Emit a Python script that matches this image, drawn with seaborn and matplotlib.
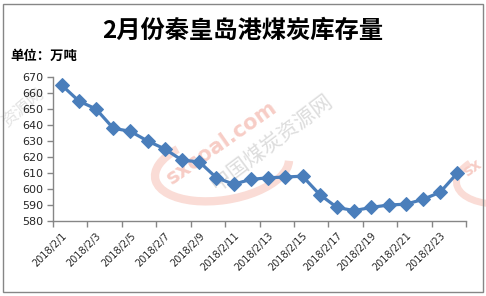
import matplotlib
matplotlib.use("Agg")
import matplotlib.pyplot as plt
from matplotlib.patches import Rectangle, Arc
from matplotlib.ticker import MultipleLocator, FixedLocator
import seaborn as sns
import pandas as pd

dates = [f"2018/2/{d}" for d in range(1, 25)]
stock = [665, 655, 650, 638, 636, 630, 625, 618, 617, 607, 603, 606,
         607, 607.5, 608, 596.5, 588.5, 586.5, 588.5, 590, 590.5, 593.5, 598, 610]
title = "2月份秦皇岛港煤炭库存量"
unit = "单位：万吨"

sns.set_theme(style="white")
plt.rcParams['font.family'] = ['Noto Sans CJK SC', 'DejaVu Sans']

df = pd.DataFrame({"date": dates, "stock": stock})
W, H = 486, 296
fig = plt.figure(figsize=(W / 100, H / 100), dpi=100)
ax = fig.add_axes([53 / W, 1 - 221 / H, (466 - 53) / W, (221 - 77) / H])
ax.set_zorder(3)

# faint watermark
wm_red = '#f7cdc6'
fig.patches.append(Arc((222 / W, 1 - 168 / H), 140 / W, 62 / H, angle=25,
                       theta1=120, theta2=345, transform=fig.transFigure,
                       color='#fadcd6', lw=6, zorder=0))
fig.text(222 / W, 1 - 143 / H, "sxcoal.com", color=wm_red, fontsize=15,
         fontweight='bold', rotation=35, ha='center', va='center', zorder=0,
         family='DejaVu Sans')
fig.text(272 / W, 1 - 143 / H, "中国煤炭资源网", color='#dddddd', fontsize=15,
         rotation=37, ha='center', va='center', zorder=0)
fig.text(24 / W, 1 - 108 / H, "资源网", color='#e3e3e3', fontsize=12,
         rotation=40, ha='center', va='center', zorder=0)
fig.patches.append(Arc((505 / W, 1 - 178 / H), 100 / W, 50 / H, angle=25,
                       theta1=120, theta2=260, transform=fig.transFigure,
                       color='#fadcd6', lw=5, zorder=0))
fig.text(472 / W, 1 - 168 / H, "sx", color=wm_red, fontsize=11,
         fontweight='bold', rotation=35, ha='center', va='center', zorder=0,
         family='DejaVu Sans')

ax.patch.set_alpha(0)
sns.lineplot(data=df, x="date", y="stock", sort=False, ax=ax, color='#4a7ebb',
             lw=2.3, marker='D', markersize=7.5, markeredgecolor='#4a7ebb')

ax.set_xlim(-0.5, len(dates) - 0.5)
ax.set_ylim(580, 670)
ax.yaxis.set_major_locator(MultipleLocator(10))
ax.set_xticks(range(0, len(dates), 2))
ax.set_xticklabels(dates[::2], rotation=45, ha='right', va='top',
                   rotation_mode='anchor', fontsize=7, family='DejaVu Sans')
ax.xaxis.set_minor_locator(FixedLocator([i - 0.5 for i in range(0, len(dates) + 1, 2)]))
ax.tick_params(axis='x', which='major', length=0, pad=7)
ax.tick_params(axis='x', which='minor', length=4, color='#868686', width=1,
               direction='out', bottom=True)
ax.tick_params(axis='y', length=4, color='#868686', width=1, direction='out',
               left=True, labelsize=8, pad=3)
for lab in ax.get_yticklabels():
    lab.set_family('DejaVu Sans')
ax.set_xlabel("")
ax.set_ylabel("")
for s in ['top', 'right']:
    ax.spines[s].set_visible(False)
for s in ['left', 'bottom']:
    ax.spines[s].set_color('#868686')
    ax.spines[s].set_linewidth(1)

fig.text(243 / W, 1 - 31 / H, title, fontsize=17.5, fontweight='bold',
         ha='center', va='center', color='black')
fig.text(10 / W, 1 - 56 / H, unit, fontsize=9.6, fontweight='bold',
         ha='left', va='center', color='black')

fig.patches.append(Rectangle((3 / W, 4 / H), 480 / W, 288 / H, transform=fig.transFigure,
                             fill=False, edgecolor='#868686', lw=1, zorder=5))

fig.savefig("out.png", dpi=100)
